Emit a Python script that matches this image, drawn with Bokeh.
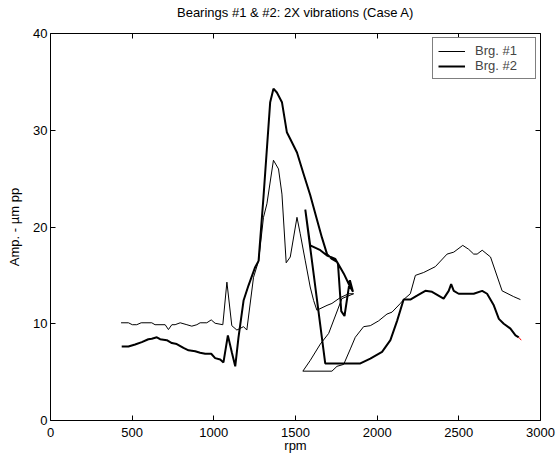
from bokeh.plotting import figure
from bokeh.models import LinearAxis, Range1d, Legend, LegendItem, FixedTicker, CustomLabelingPolicy
from bokeh.embed import file_html
from bokeh.resources import INLINE

FONT = "Liberation Sans"

title_text = "Bearings #1 & #2: 2X vibrations (Case A)"
x_ticks = [0, 500, 1000, 1500, 2000, 2500, 3000]
y_ticks = [0, 10, 20, 30, 40]

brg1_rpm = [432, 477, 501, 528, 555, 620, 640, 702, 722, 743, 763, 794, 835, 865, 896, 916, 957, 984,
            1008, 1055, 1080, 1110, 1141, 1182, 1202, 1243, 1274, 1304, 1325, 1365, 1396, 1417, 1443,
            1468, 1509, 1529, 1560, 1590, 1611, 1631, 1693, 1723, 1774, 1825, 1856, 1784, 1703, 1652,
            1590, 1545, 1723, 1754, 1795, 1836, 1866, 1917, 1958, 2009, 2060, 2091, 2142, 2162, 2203,
            2234, 2285, 2356, 2428, 2469, 2524, 2560, 2591, 2612, 2643, 2694, 2765, 2836, 2877]
brg1_amp = [10.1, 10.1, 9.9, 9.9, 10.1, 10.1, 9.9, 9.9, 9.4, 9.9, 9.9, 10.1, 9.9, 9.75, 9.9, 10.1, 10.1, 10.4,
            10.05, 9.9, 14.3, 9.8, 9.35, 9.7, 9.35, 14.8, 16.5, 21.0, 22.4, 26.9, 26.0, 23.4, 16.3,
            16.9, 21.0, 19.3, 16.5, 13.8, 12.4, 11.4, 11.9, 12.1, 12.7, 13.1, 13.1, 12.6, 9.0, 7.9,
            6.2, 5.1, 5.1, 5.6, 5.8, 7.4, 8.6, 9.7, 9.8, 10.3, 11.0, 11.2, 12.1, 12.5, 13.1,
            15.0, 15.3, 15.9, 17.2, 17.4, 18.1, 17.7, 17.2, 17.2, 17.6, 16.9, 13.4, 12.8, 12.5]

brg2_rpm = [436, 477, 518, 559, 599, 620, 651, 671, 712, 743, 773, 814, 845, 886, 916, 947, 984,
            1008, 1039, 1059, 1086, 1110, 1131, 1151, 1182, 1212, 1253, 1274, 1304, 1345, 1365, 1386,
            1417, 1447, 1468, 1509, 1549, 1590, 1621, 1662, 1693, 1723, 1754, 1795, 1835, 1852,
            1833, 1800, 1780, 1760, 1744, 1693, 1652, 1590, 1560, 1682, 1897, 1958, 2030, 2081, 2122,
            2162, 2203, 2244, 2295, 2336, 2407, 2438, 2453, 2469, 2499, 2591, 2643, 2673, 2714, 2745,
            2775, 2816, 2847, 2867]
brg2_amp = [7.65, 7.65, 7.85, 8.1, 8.4, 8.45, 8.6, 8.4, 8.3, 8.0, 7.9, 7.5, 7.25, 7.15, 7.0, 6.9, 6.9,
            6.45, 6.3, 6.0, 8.8, 7.05, 5.6, 8.6, 12.4, 13.95, 15.85, 16.5, 23.1, 32.9, 34.3, 33.9,
            32.9, 29.8, 29.1, 27.7, 25.5, 23.3, 21.4, 18.9, 17.2, 16.7, 16.4, 15.2, 13.8, 13.3,
            14.5, 10.8, 11.3, 16.2, 16.7, 17.05, 17.6, 18.1, 21.8, 5.9, 5.9, 6.4, 7.1, 8.3, 10.3,
            12.5, 12.5, 12.9, 13.4, 13.3, 12.6, 13.4, 14.1, 13.4, 13.1, 13.1, 13.4, 13.1, 11.9, 10.5,
            10.0, 9.5, 8.8, 8.6]

tail_rpm = [2867, 2882]
tail_amp = [8.6, 8.3]

p = figure(width=558, height=458, x_range=Range1d(0, 3000), y_range=Range1d(0, 40),
           output_backend="svg", toolbar_location=None,
           x_axis_location=None, y_axis_location=None,
           min_border_left=50, min_border_right=18, min_border_top=33, min_border_bottom=38)
p.grid.visible = False
p.outline_line_color = None
p.background_fill_color = "white"
p.border_fill_color = "white"

hide_all = CustomLabelingPolicy(code="""
    const all = [...indices]
    for (const i of all)
        indices.unset(i)
    return indices
""")


def style_axis(ax, labels=True):
    ax.axis_line_color = "black"
    ax.axis_line_width = 1
    ax.major_tick_in = 5
    ax.major_tick_out = 0
    ax.major_tick_line_color = "black"
    ax.minor_tick_line_color = None
    ax.major_label_text_font = FONT
    ax.major_label_text_color = "black"
    if labels:
        ax.major_label_text_font_size = "13px"
        ax.major_label_standoff = 3
    else:
        ax.major_label_text_font_size = "0px"
        ax.major_label_standoff = 0
        ax.major_label_policy = hide_all
    ax.axis_label_text_font = FONT
    ax.axis_label_text_font_size = "13px"
    ax.axis_label_text_font_style = "normal"
    ax.axis_label_text_color = "black"


xb = LinearAxis(ticker=FixedTicker(ticks=x_ticks), axis_label="rpm")
style_axis(xb)
xb.major_label_standoff = 7
xb.axis_label_standoff = -2
p.add_layout(xb, "below")

yl = LinearAxis(ticker=FixedTicker(ticks=y_ticks), axis_label="Amp. - µm pp")
style_axis(yl)
yl.axis_label_standoff = 8
p.add_layout(yl, "left")

# top axis: inward ticks only, its label serves as the chart title
xt = LinearAxis(ticker=FixedTicker(ticks=x_ticks), axis_label=title_text)
style_axis(xt, labels=False)
xt.axis_label_standoff = 14
p.add_layout(xt, "above")

yr = LinearAxis(ticker=FixedTicker(ticks=y_ticks))
style_axis(yr, labels=False)
p.add_layout(yr, "right")

r1 = p.line(brg1_rpm, brg1_amp, line_color="black", line_width=1)
r2 = p.line(brg2_rpm, brg2_amp, line_color="black", line_width=2)
p.line(tail_rpm, tail_amp, line_color="red", line_width=1)

legend = Legend(items=[LegendItem(label="Brg. #1", renderers=[r1]),
                       LegendItem(label="Brg. #2", renderers=[r2])],
                location="top_right", margin=4, padding=5, spacing=-2,
                glyph_width=27, glyph_height=12, label_standoff=10,
                label_height=12, label_width=55,
                label_text_font=FONT, label_text_font_size="13px",
                border_line_color="black", border_line_width=1,
                background_fill_color="white", background_fill_alpha=1)
p.add_layout(legend)

open("out.html", "w").write(file_html(p, INLINE))
